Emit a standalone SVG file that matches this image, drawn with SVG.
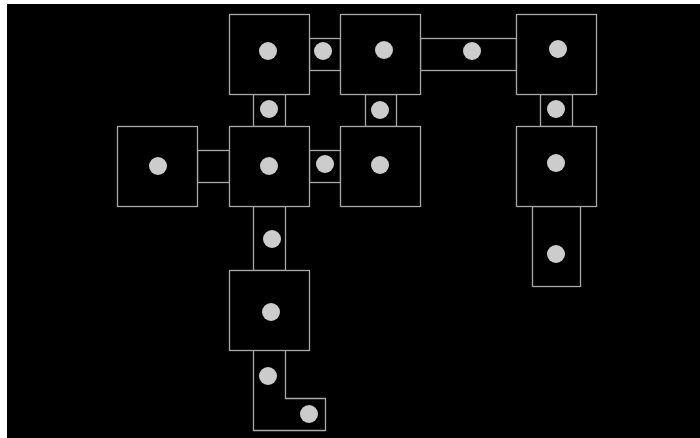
<svg xmlns="http://www.w3.org/2000/svg" width="700" height="438" viewBox="0 0 700 438">
<style>
.room{fill:#000;stroke:#a8a8a8;stroke-width:1.3}
.cor{fill:#000;stroke:#a8a8a8;stroke-width:1.3}
.dot{fill:#cccccc}
</style>
<rect x="0" y="0" width="700" height="438" fill="#fff"/>
<rect x="7" y="4" width="693" height="434" fill="#000"/>
<g id="connectors">
<g id="c-ab"><rect class="cor" x="309.5" y="38.5" width="31" height="32"/><circle class="dot" cx="323" cy="51" r="9"/></g>
<g id="c-bc"><rect class="cor" x="420.5" y="38.5" width="96" height="32"/><circle class="dot" cx="472" cy="51" r="9"/></g>
<g id="c-ae"><rect class="cor" x="253.5" y="94.5" width="32" height="32"/><circle class="dot" cx="269" cy="109" r="9"/></g>
<g id="c-bf"><rect class="cor" x="365.5" y="94.5" width="31" height="32"/><circle class="dot" cx="380" cy="110" r="9"/></g>
<g id="c-cg"><rect class="cor" x="540.5" y="94.5" width="32" height="32"/><circle class="dot" cx="556" cy="109" r="9"/></g>
<g id="c-de"><rect class="cor" x="197.5" y="150.5" width="32" height="32"/></g>
<g id="c-ef"><rect class="cor" x="309.5" y="150.5" width="31" height="32"/><circle class="dot" cx="325" cy="164" r="9"/></g>
<g id="c-g"><rect class="cor" x="532.5" y="206.5" width="48" height="80"/><circle class="dot" cx="556" cy="254" r="9"/></g>
<g id="c-eh"><rect class="cor" x="253.5" y="206.5" width="32" height="64"/><circle class="dot" cx="272" cy="239" r="9"/></g>
<g id="c-h"><path class="cor" d="M253.5 350.5 V430.5 H325.5 V398.5 H285.5 V350.5"/><circle class="dot" cx="268" cy="376" r="9"/><circle class="dot" cx="309" cy="414" r="9"/></g>
</g>
<g id="room-a"><rect class="room" x="229.5" y="14.5" width="80" height="80"/><circle class="dot" cx="268" cy="51" r="9"/></g>
<g id="room-b"><rect class="room" x="340.5" y="14.5" width="80" height="80"/><circle class="dot" cx="384" cy="50" r="9"/></g>
<g id="room-c"><rect class="room" x="516.5" y="14.5" width="80" height="80"/><circle class="dot" cx="558" cy="49" r="9"/></g>
<g id="room-d"><rect class="room" x="117.5" y="126.5" width="80" height="80"/><circle class="dot" cx="158" cy="166" r="9"/></g>
<g id="room-e"><rect class="room" x="229.5" y="126.5" width="80" height="80"/><circle class="dot" cx="269" cy="166" r="9"/></g>
<g id="room-f"><rect class="room" x="340.5" y="126.5" width="80" height="80"/><circle class="dot" cx="380" cy="165" r="9"/></g>
<g id="room-g"><rect class="room" x="516.5" y="126.5" width="80" height="80"/><circle class="dot" cx="556" cy="163" r="9"/></g>
<g id="room-h"><rect class="room" x="229.5" y="270.5" width="80" height="80"/><circle class="dot" cx="271" cy="312" r="9"/></g>
</svg>
